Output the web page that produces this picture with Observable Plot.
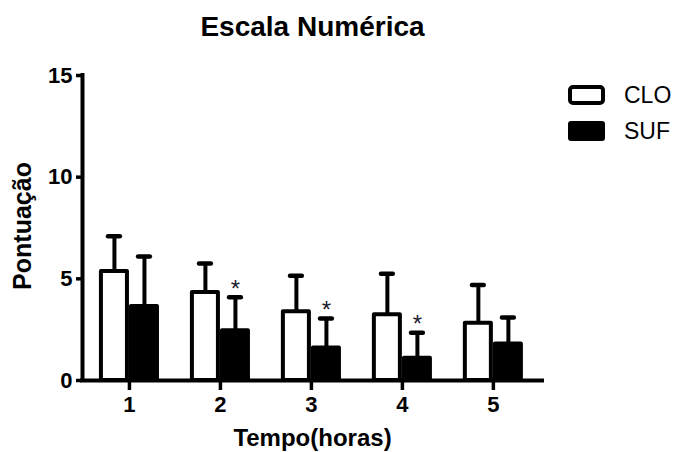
<!DOCTYPE html>
<html>
<head>
<meta charset="utf-8">
<script src="https://cdn.jsdelivr.net/npm/d3@7"></script>
<script src="https://cdn.jsdelivr.net/npm/@observablehq/plot@0.6"></script>
<style>
  html, body { margin: 0; padding: 0; background: #fff; }
  #chart { position: relative; width: 673px; height: 452px; }
  #chart svg { display: block; }
  #legend { position: absolute; left: 0; top: 0; pointer-events: none; }
</style>
</head>
<body>
<div id="chart"></div>
<script>
// ---- data ----
const times = [1, 2, 3, 4, 5];
const series = ["CLO", "SUF"];
const cloMean = [5.36, 4.33, 3.38, 3.23, 2.82];
const cloSD   = [1.74, 1.42, 1.77, 2.02, 1.88];
const sufMean = [3.64, 2.45, 1.60, 1.10, 1.80];
const sufSD   = [2.46, 1.65, 1.45, 1.25, 1.30];
const sufSignificant = [false, true, true, true, false];
const yTicks = [0, 5, 10, 15];
const titleText = "Escala Numérica";
const xLabel = "Tempo(horas)";
const yLabel = "Pontuação";

// ---- layout ----
const xDomain = [0.484, 5.54];
const barW = 0.33;     // bar width in x units
const capHalf = 0.065; // error cap half width in x units

const rows = [];
times.forEach((t, i) => {
  rows.push({t, series: series[0], mean: cloMean[i], sd: cloSD[i], x1: t - barW, x2: t, star: false});
  rows.push({t, series: series[1], mean: sufMean[i], sd: sufSD[i], x1: t, x2: t + barW, star: sufSignificant[i]});
});
const cx = d => (d.x1 + d.x2) / 2;
const errTop = d => d.mean + d.sd;

const plot = Plot.plot({
  width: 673,
  height: 452,
  marginLeft: 82,
  marginRight: 131,
  marginTop: 75,
  marginBottom: 72,
  style: {fontFamily: "'Liberation Sans', Arial, sans-serif", fontWeight: "bold", color: "#000", background: "#fff"},
  x: {type: "linear", domain: xDomain},
  y: {domain: [0, 15]},
  marks: [
    Plot.ruleX(rows, {x: cx, y1: "mean", y2: errTop, stroke: "#000", strokeWidth: 4}),
    Plot.ruleY(rows, {y: errTop, x1: d => cx(d) - capHalf, x2: d => cx(d) + capHalf, stroke: "#000", strokeWidth: 4.5, strokeLinecap: "round"}),
    Plot.rect(rows.filter(d => d.series === "CLO"), {x1: "x1", x2: "x2", y1: 0, y2: "mean", fill: "#fff", stroke: "#000", strokeWidth: 4, insetLeft: 2, insetRight: 2, strokeLinejoin: "round"}),
    Plot.rect(rows.filter(d => d.series === "SUF"), {x1: "x1", x2: "x2", y1: 0, y2: "mean", fill: "#000", stroke: "#000", strokeWidth: 4, insetLeft: 2, insetRight: 2, strokeLinejoin: "round"}),
    Plot.text(rows.filter(d => d.star), {x: cx, y: errTop, text: () => "*", dy: -8, fontSize: 24, fontWeight: "normal", fill: "#1c2230"}),
    Plot.axisY({ticks: yTicks, tickSize: 6, tickPadding: 4, strokeWidth: 3.5, fontSize: 22, label: null}),
    Plot.axisX({ticks: times, tickSize: 10, tickPadding: 6, strokeWidth: 3.5, fontSize: 22, label: null, tickFormat: d => String(d)}),
    Plot.ruleY([0], {stroke: "#000", strokeWidth: 4, strokeLinecap: "square"}),
    Plot.ruleX([xDomain[0]], {stroke: "#000", strokeWidth: 4, strokeLinecap: "square"}),
    Plot.text([titleText], {text: d => d, frameAnchor: "top", lineAnchor: "middle", dy: -48, fontSize: 28, fontWeight: "bold"}),
    Plot.text([xLabel], {text: d => d, frameAnchor: "bottom", lineAnchor: "middle", dy: 58, fontSize: 24, fontWeight: "bold"})
  ]
});

const chart = document.getElementById("chart");
chart.appendChild(plot);

// ---- overlay: y label and legend ----
const ov = d3.select(chart).append("svg")
  .attr("id", "legend").attr("width", 673).attr("height", 452);
ov.append("text")
  .attr("transform", "translate(22,226) rotate(-90)")
  .attr("text-anchor", "middle")
  .attr("dy", "0.35em")
  .attr("font-family", "'Liberation Sans', Arial, sans-serif")
  .attr("font-weight", "bold")
  .attr("font-size", 25)
  .attr("fill", "#000")
  .text(yLabel);

const legItems = [
  {name: series[0], fill: "#fff", y: 87, h: 16, sw: 4, x: 570, w: 33},
  {name: series[1], fill: "#000", y: 121, h: 20, sw: 0, x: 568, w: 37}
];
legItems.forEach(d => {
  ov.append("rect").attr("x", d.x).attr("y", d.y).attr("width", d.w).attr("height", d.h)
    .attr("rx", 3).attr("fill", d.fill).attr("stroke", "#000").attr("stroke-width", d.sw);
});
ov.selectAll("text.lbl").data(legItems).join("text")
  .attr("class", "lbl")
  .attr("x", 624).attr("y", (d, i) => i === 0 ? 95 : 131)
  .attr("dy", "0.35em")
  .attr("font-family", "'Liberation Sans', Arial, sans-serif")
  .attr("font-size", 23)
  .attr("fill", "#000")
  .text(d => d.name);
</script>
</body>
</html>
